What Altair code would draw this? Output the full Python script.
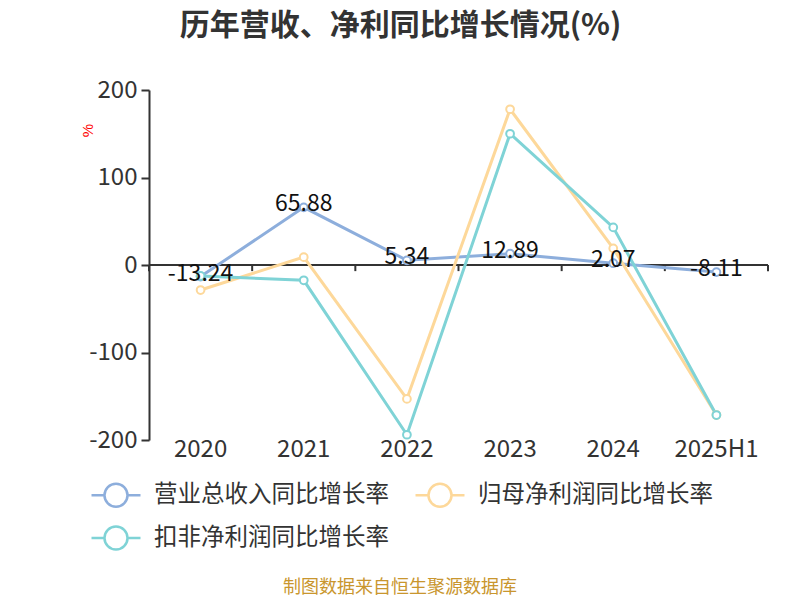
import altair as alt
import pandas as pd

years = ["2020", "2021", "2022", "2023", "2024", "2025H1"]
s_names = ["营业总收入同比增长率", "归母净利润同比增长率", "扣非净利润同比增长率"]
revenue = [-13.24, 65.88, 5.34, 12.89, 2.07, -8.11]
netprofit = [-28.6, 9.0, -153.0, 178.0, 19.0, -171.5]
deducted = [-12.5, -17.5, -194.0, 150.0, 43.0, -171.5]
colors = ["#8DAEDC", "#FDD89A", "#7FD3D6"]

rows = []
for name, vals in zip(s_names, [revenue, netprofit, deducted]):
    for y, v in zip(years, vals):
        rows.append({"year": y, "series": name, "value": v, "order": s_names.index(name)})
df = pd.DataFrame(rows)
rev_df = pd.DataFrame({"year": years, "value": revenue,
                       "label": [f"{v:.2f}" for v in revenue]})
tick_df = pd.DataFrame({"year": years})

FONT = "Noto Sans CJK SC"
xscale = alt.Scale(type="band", domain=years, paddingInner=0, paddingOuter=0)
yscale = alt.Scale(domain=[-200, 200], nice=False)
cscale = alt.Scale(domain=s_names, range=colors)

xenc = alt.X("year:N", scale=xscale, bandPosition=0.5,
             axis=alt.Axis(title=None, domain=False, ticks=False, labelAngle=0,
                           bandPosition=0.5, labelAlign="center",
                           labelFontSize=24, labelColor="#333", labelPadding=9,
                           labelFont=FONT))
yenc = alt.Y("value:Q", scale=yscale,
             axis=alt.Axis(values=[-200, -100, 0, 100, 200], title="%",
                           labelExpr="datum.value < 0 ? '-' + abs(datum.value) : '' + datum.value",
                           titleColor="red", titleFontSize=15, titleFontWeight="normal",
                           titleX=-62, titleY=40, titleAngle=-90,
                           titleAlign="center", titleBaseline="middle",
                           labelFontSize=24, labelColor="#333", labelPadding=4,
                           labelFont=FONT,
                           domainColor="#333", domainWidth=2, tickColor="#333",
                           tickWidth=2, tickSize=8,
                           gridColor="#c8c8c8", gridDash=[7, 5], gridWidth=1.5))

path_sym = ("M-1,0L-0.47,0M0.47,0L1,0M-0.47,0A0.47,0.47 0 1,1 0.47,0"
            "A0.47,0.47 0 1,1 -0.47,0Z")

color_enc = alt.Color("series:N", scale=cscale,
                      legend=alt.Legend(title=None, orient="none", legendX=-59, legendY=379,
                                        columns=2, direction="horizontal",
                                        symbolType=path_sym, symbolSize=2400,
                                        symbolStrokeWidth=2.5, symbolFillColor="white",
                                        labelFontSize=23.5, labelColor="#333",
                                        labelFont=FONT,
                                        columnPadding=21, rowPadding=-5,
                                        labelOffset=12, labelLimit=400))

base = alt.Chart(df)
lines = base.mark_line(strokeWidth=3).encode(
    x=xenc, y=yenc, color=color_enc, order="order:Q"
)
points = base.mark_point(filled=True, fill="white", size=60, strokeWidth=2, opacity=1).encode(
    x=xenc, y=yenc, stroke=alt.Stroke("series:N", scale=cscale, legend=None)
)

zero = alt.Chart(tick_df).mark_rule(color="#333", strokeWidth=2).encode(
    y=alt.datum(0)
)
ticks = alt.Chart(tick_df).mark_rule(color="#333", strokeWidth=2).encode(
    x=alt.X("year:N", scale=xscale, bandPosition=0), y=alt.datum(0), y2=alt.datum(-7)
)
tick_end = alt.Chart(tick_df.tail(1)).mark_rule(color="#333", strokeWidth=2).encode(
    x=alt.X("year:N", scale=xscale, bandPosition=1), y=alt.datum(0), y2=alt.datum(-7)
)

labels = alt.Chart(rev_df).mark_text(fontSize=23, color="#111", dy=-3,
                                     baseline="middle", align="center",
                                     font=FONT).encode(
    x=alt.X("year:N", scale=xscale, bandPosition=0.5), y=alt.Y("value:Q", scale=yscale),
    text="label:N"
)

source = alt.Chart(tick_df.head(1)).mark_text(
    fontSize=18, color="#C9962E", font=FONT, align="center", baseline="middle"
).encode(x=alt.value(251), y=alt.value(498), text=alt.value("制图数据来自恒生聚源数据库"))

chart = alt.layer(zero, ticks, tick_end, lines, points, labels, source).properties(
    width=619, height=350,
    autosize=alt.AutoSizeParams(type="none"),
    padding={"left": 141, "top": 82, "right": 24, "bottom": 166},
    title=alt.TitleParams("历年营收、净利同比增长情况(%)", fontSize=30, fontWeight="bold",
                          color="#333", anchor="middle", frame="group", dx=-58,
                          offset=37, font=FONT),
).configure_view(stroke=None)

chart.save("out.html", embed_options={"renderer": "svg", "actions": False})
